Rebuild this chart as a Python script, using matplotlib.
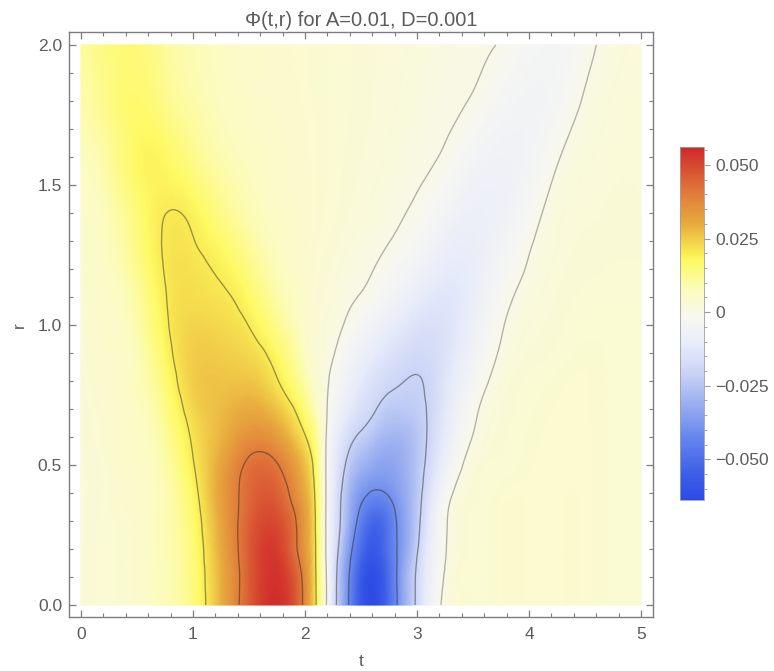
import numpy as np
import matplotlib
matplotlib.use('Agg')
import matplotlib.pyplot as plt
import matplotlib.tri as mtri
from matplotlib.colors import LinearSegmentedColormap, Normalize
from matplotlib.ticker import MultipleLocator
from matplotlib.cm import ScalarMappable

plt.rcParams['font.family'] = ['Liberation Sans', 'DejaVu Sans']

# ---------------- data ----------------
T = [0, 0.25, 0.5, 0.75, 1.0, 1.25, 1.5, 1.75, 2.0, 2.1, 2.2, 2.3, 2.4, 2.5,
     2.625, 2.75, 2.875, 3.0, 3.25, 3.5, 3.75, 4.0, 4.25, 4.5, 4.75, 5.0]
R = [0.0, 0.1, 0.2, 0.3, 0.4, 0.5, 0.6, 0.7, 0.8, 0.9, 1.0, 1.1, 1.2, 1.3, 1.4, 1.6, 1.8, 2.0]

PHI_R00 = [0.003, 0.004, 0.005, 0.008, 0.014, 0.029, 0.046, 0.055, 0.037, 0.020, -0.002, -0.024, -0.042,
           -0.057, -0.063, -0.050, -0.033, -0.018, 0.0015, 0.004, 0.0045, 0.0045, 0.0045, 0.0045, 0.004, 0.004]
PHI_R01 = [0.003, 0.004, 0.005, 0.008, 0.0145, 0.029, 0.0455, 0.054, 0.0365, 0.0195, -0.002, -0.0235, -0.041,
           -0.056, -0.062, -0.0495, -0.0328, -0.0185, 0.0005, 0.004, 0.0045, 0.0045, 0.0045, 0.0045, 0.004, 0.004]
PHI_R02 = [0.003, 0.004, 0.005, 0.0082, 0.015, 0.030, 0.046, 0.052, 0.0335, 0.019, -0.003, -0.0205, -0.037,
           -0.050, -0.057, -0.047, -0.035, -0.021, -0.0005, 0.0038, 0.0045, 0.0045, 0.0045, 0.0045, 0.004, 0.004]
PHI_R03 = [0.003, 0.004, 0.005, 0.0085, 0.016, 0.031, 0.045, 0.049, 0.033, 0.0185, -0.003, -0.018, -0.032,
           -0.044, -0.052, -0.046, -0.035, -0.023, -0.001, 0.0038, 0.0045, 0.0045, 0.0045, 0.0045, 0.004, 0.004]
PHI_R04 = [0.003, 0.004, 0.0055, 0.0085, 0.0175, 0.032, 0.0435, 0.045, 0.030, 0.0175, -0.0025, -0.017, -0.029,
           -0.037, -0.041, -0.039, -0.033, -0.024, -0.0035, 0.0035, 0.0043, 0.0045, 0.0045, 0.0045, 0.004, 0.004]
PHI_R05 = [0.003, 0.0042, 0.0058, 0.0095, 0.0195, 0.031, 0.0415, 0.0405, 0.0265, 0.0155, -0.0025, -0.0145, -0.0235,
           -0.029, -0.033, -0.034, -0.031, -0.0245, -0.008, 0.0025, 0.0038, 0.0043, 0.0045, 0.0045, 0.004, 0.004]
PHI_R06 = [0.0032, 0.0045, 0.0063, 0.011, 0.021, 0.0285, 0.0355, 0.033, 0.0205, 0.012, -0.0015, -0.011, -0.0175,
           -0.0215, -0.026, -0.029, -0.0285, -0.0245, -0.0105, 0.0002, 0.0035, 0.0042, 0.0045, 0.0045, 0.004, 0.004]
PHI_R07 = [0.0033, 0.0047, 0.0068, 0.013, 0.023, 0.0272, 0.030, 0.026, 0.0145, 0.0075, -0.0002, -0.0065, -0.0115,
           -0.0155, -0.0195, -0.0232, -0.0235, -0.0222, -0.0125, -0.0015, 0.0031, 0.004, 0.0044, 0.0044, 0.004, 0.004]
PHI_R08 = [0.0035, 0.005, 0.0075, 0.0152, 0.0245, 0.026, 0.0258, 0.0205, 0.0095, 0.0048, 0.0005, -0.0038, -0.008,
           -0.0115, -0.0155, -0.018, -0.0198, -0.0205, -0.0135, -0.004, 0.0022, 0.0038, 0.0042, 0.0044, 0.004, 0.004]
PHI_R09 = [0.0037, 0.0052, 0.008, 0.0172, 0.0245, 0.0245, 0.0228, 0.0168, 0.007, 0.0038, 0.0018, -0.0012, -0.0045,
           -0.0075, -0.011, -0.014, -0.0163, -0.0178, -0.0145, -0.0062, 0.0006, 0.0032, 0.0038, 0.0042, 0.004, 0.004]
PHI_R10 = [0.004, 0.0055, 0.0092, 0.0188, 0.0235, 0.0228, 0.0198, 0.0125, 0.0058, 0.0035, 0.0022, 0.0008, -0.0012,
           -0.0035, -0.0065, -0.0095, -0.012, -0.0145, -0.0145, -0.008, -0.0006, 0.0025, 0.0035, 0.004, 0.004, 0.004]
PHI_R11 = [0.0044, 0.006, 0.0105, 0.0196, 0.0222, 0.021, 0.0168, 0.0098, 0.0052, 0.0036, 0.0028, 0.0017, 0.0006,
           -0.0003, -0.0022, -0.0048, -0.0077, -0.0102, -0.0132, -0.0092, -0.0022, 0.0017, 0.0032, 0.0038, 0.0039, 0.0039]
PHI_R12 = [0.0048, 0.0068, 0.0125, 0.0203, 0.0214, 0.019, 0.0138, 0.0078, 0.0048, 0.0039, 0.0033, 0.0025, 0.0017,
           0.0009, -0.0001, -0.0018, -0.0038, -0.006, -0.0108, -0.0096, -0.004, 0.0005, 0.0028, 0.0035, 0.0037, 0.0037]
PHI_R13 = [0.0053, 0.0076, 0.0138, 0.0205, 0.0202, 0.0164, 0.011, 0.0068, 0.0048, 0.0042, 0.0037, 0.0031, 0.0025,
           0.0018, 0.001, 0.0001, -0.0012, -0.0028, -0.0078, -0.0092, -0.0057, -0.0007, 0.0024, 0.0033, 0.0035, 0.0035]
PHI_R14 = [0.0058, 0.0085, 0.015, 0.0199, 0.0186, 0.0134, 0.0088, 0.006, 0.0048, 0.0044, 0.004, 0.0036, 0.0031,
           0.0026, 0.002, 0.0012, 0.0002, -0.0008, -0.005, -0.0082, -0.0068, -0.0025, 0.002, 0.003, 0.0033, 0.0033]
PHI_R16 = [0.0072, 0.011, 0.0172, 0.0172, 0.013, 0.009, 0.0068, 0.0055, 0.0047, 0.0044, 0.0041, 0.0038, 0.0035,
           0.0032, 0.0028, 0.0023, 0.0017, 0.001, -0.0006, -0.0045, -0.0064, -0.005, -0.0005, 0.0022, 0.003, 0.003]
PHI_R18 = [0.0092, 0.0135, 0.016, 0.013, 0.0095, 0.0072, 0.0058, 0.005, 0.0045, 0.0043, 0.0041, 0.0039, 0.0037,
           0.0034, 0.0031, 0.0027, 0.0023, 0.0018, 0.0008, -0.0004, -0.0035, -0.0052, -0.0035, 0.0005, 0.0026, 0.003]
PHI_R20 = [0.0108, 0.0142, 0.0148, 0.0115, 0.0085, 0.0066, 0.0055, 0.0048, 0.0044, 0.0042, 0.0041, 0.0039, 0.0037,
           0.0035, 0.0032, 0.0029, 0.0026, 0.0022, 0.0014, 0.0008, -0.0004, -0.0032, -0.0042, -0.0015, 0.0018, 0.0028]

PHI = [PHI_R00, PHI_R01, PHI_R02, PHI_R03, PHI_R04, PHI_R05, PHI_R06, PHI_R07, PHI_R08, PHI_R09,
       PHI_R10, PHI_R11, PHI_R12, PHI_R13, PHI_R14, PHI_R16, PHI_R18, PHI_R20]

CONTOUR_LEVELS = [-0.04, -0.02, 0.02, 0.04]
ZERO_LEVEL = [0.0]
X_TICKS = [0, 1, 2, 3, 4, 5]
X_TICKLABELS = ['0', '1', '2', '3', '4', '5']
Y_TICKS = [0.0, 0.5, 1.0, 1.5, 2.0]
Y_TICKLABELS = ['0.0', '0.5', '1.0', '1.5', '2.0']
CB_TICKS = [-0.05, -0.025, 0.0, 0.025, 0.05]
CB_TICKLABELS = ['\u22120.050', '\u22120.025', '0', '0.025', '0.050']
VMIN, VMAX = -0.0638, 0.0561
TITLE = '\u03a6(t,r) for A=0.01, D=0.001'

# ---------------- colour map ----------------
stops = [(-0.0638, '#2d4be4'), (-0.055, '#3c5fe8'), (-0.043, '#6484ec'), (-0.032, '#96acf0'),
         (-0.021, '#c8d2f6'), (-0.011, '#e8ecfa'), (-0.002, '#f7f7f2'), (0.007, '#fcfbc3'),
         (0.0172, '#fefa64'), (0.0206, '#f8e852'), (0.0297, '#e8ac3e'), (0.0409, '#e0783a'),
         (0.0561, '#d0282a')]
cmap = LinearSegmentedColormap.from_list(
    'temp', [((v - VMIN) / (VMAX - VMIN), c) for v, c in stops], N=512)
norm = Normalize(VMIN, VMAX)

# ---------------- field on a triangulation ----------------
t = np.array(T)
r = np.array(R)
Z = np.array(PHI)
TT, RR = np.meshgrid(t, r)
nt, nr = len(t), len(r)
tris = []
for j in range(nr - 1):
    for i in range(nt - 1):
        a = j * nt + i
        b = a + 1
        c = a + nt
        d = c + 1
        tris.append([a, b, d])
        tris.append([a, d, c])
RS = 2.5  # work in a stretched r so the cells are close to square
tri_s = mtri.Triangulation(TT.ravel(), RR.ravel() * RS, np.array(tris))
interp = mtri.CubicTriInterpolator(tri_s, Z.ravel(), kind='min_E')
refiner = mtri.UniformTriRefiner(tri_s)
tri_fs, z_f = refiner.refine_field(Z.ravel(), triinterpolator=interp, subdiv=4)
tri_f = mtri.Triangulation(tri_fs.x, tri_fs.y / RS, tri_fs.triangles)

# ---------------- figure ----------------
W, H = 774, 671
fig = plt.figure(figsize=(W / 100, H / 100), dpi=100)
ax = fig.add_axes([69 / W, 54 / H, 584 / W, 585 / H])

ax.tripcolor(tri_f, z_f, shading='gouraud', cmap=cmap, norm=norm, rasterized=True)
ax.tricontour(tri_f, z_f, levels=CONTOUR_LEVELS, colors='#202020', linewidths=0.95, alpha=0.45,
              linestyles='solid')
ax.tricontour(tri_f, z_f, levels=ZERO_LEVEL, colors='#202020', linewidths=0.95, alpha=0.33,
              linestyles='solid')

ax.set_xlim(-0.107, 5.107)
ax.set_ylim(-0.043, 2.046)

frame_col = '#7d7d7d'
text_col = '#5c5c5c'
for s in ax.spines.values():
    s.set_color(frame_col)
    s.set_linewidth(1.0)
ax.set_xticks(X_TICKS)
ax.set_xticklabels(X_TICKLABELS)
ax.set_yticks(Y_TICKS)
ax.set_yticklabels(Y_TICKLABELS)
ax.xaxis.set_minor_locator(MultipleLocator(0.2))
ax.yaxis.set_minor_locator(MultipleLocator(0.1))
ax.tick_params(which='both', direction='in', top=True, right=True, color=frame_col,
               labelcolor=text_col, labelsize=12.5)
ax.tick_params(which='major', length=5, width=0.9)
ax.tick_params(which='minor', length=3, width=0.8)
ax.tick_params(axis='x', pad=7)
ax.tick_params(axis='y', pad=5)

fig.text(361 / W, 1 - 20 / H, TITLE, ha='center', va='center', fontsize=14.5, color=text_col)
fig.text(361 / W, 1 - 662 / H, 't', ha='center', va='center', fontsize=12.5, color=text_col)
fig.text(19 / W, 1 - 325 / H, 'r', ha='center', va='center', fontsize=12.5, color=text_col,
         rotation=90)

# ---------------- colour bar ----------------
cax = fig.add_axes([680 / W, (H - 500) / H, 24 / W, 353 / H])
cb = fig.colorbar(ScalarMappable(norm=norm, cmap=cmap), cax=cax)
cb.outline.set_edgecolor('#a0a0a0')
cb.outline.set_linewidth(0.6)
cb.set_ticks(CB_TICKS)
cb.set_ticklabels(CB_TICKLABELS)
cax.yaxis.set_minor_locator(MultipleLocator(0.005))
cax.tick_params(which='both', direction='out', color='#9a9a9a', labelcolor=text_col,
                labelsize=12.5)
cax.tick_params(which='major', length=4, width=0.8, pad=4)
cax.tick_params(which='minor', length=2.5, width=0.6)

fig.savefig('out.png', dpi=100)
